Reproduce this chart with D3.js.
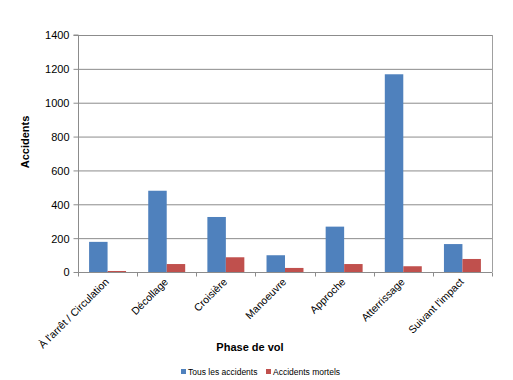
<!DOCTYPE html>
<html><head><meta charset="utf-8">
<script src="https://cdn.jsdelivr.net/npm/d3@7/dist/d3.min.js"></script>
<style>body{margin:0;background:#fff;} text{font-family:"Liberation Sans",Arial,sans-serif;}</style>
</head><body>
<svg id="c" width="513" height="380"></svg>
<script>
const categories = ["À l'arrêt / Circulation","Décollage","Croisière","Manoeuvre","Approche","Atterrissage","Suivant l'impact"];
const seriesNames = ["Tous les accidents","Accidents mortels"];
const totalAccidents = [178, 480, 325, 99, 268, 1168, 165];
const fatalAccidents = [6, 47, 87, 24, 47, 34, 77];
const yTicks = [0,200,400,600,800,1000,1200,1400];
const colors = ["#4F81BD","#C0504D"];

const svg = d3.select("#c");
const L=78, R=492, T=35, B=272;
const x = d3.scaleBand().domain(categories).range([L,R]).paddingInner(0).paddingOuter(0);
const y = d3.scaleLinear().domain([0,1400]).range([B,T]);
const inner = d3.scaleBand().domain(seriesNames).range([0,x.bandwidth()]).paddingInner(0).paddingOuter(0.6);

// gridlines
svg.append("g").selectAll("line").data(yTicks).join("line")
  .attr("x1",L).attr("x2",R).attr("y1",d=>y(d)+0.5).attr("y2",d=>y(d)+0.5)
  .attr("stroke","#8c8c8c").attr("stroke-width",1);
// right border
svg.append("line").attr("x1",R+0.5).attr("x2",R+0.5).attr("y1",T).attr("y2",B).attr("stroke","#a0a0a0");

// bars
const data = categories.map((c,i)=>({c, v:[totalAccidents[i], fatalAccidents[i]]}));
const g = svg.append("g");
data.forEach(d=>{
  seriesNames.forEach((s,j)=>{
    g.append("rect").attr("x",x(d.c)+inner(s)).attr("width",inner.bandwidth())
      .attr("y",y(d.v[j])).attr("height",B-y(d.v[j])+0.5).attr("fill",colors[j]);
  });
});

// y axis
const ya = svg.append("g").attr("transform",`translate(${L+0.5},0)`)
  .call(d3.axisLeft(y).tickValues(yTicks).tickSize(5).tickPadding(4).tickFormat(d3.format("d")));
ya.select(".domain").attr("stroke","#8c8c8c").attr("d",`M-5,${T}H0V${B+0.5}`);
ya.selectAll(".tick line").attr("stroke","#8c8c8c");
ya.selectAll(".tick text").attr("font-size",11).attr("fill","#000").attr("font-family","Liberation Sans, Arial, sans-serif").attr("dy","0.35em");

// x axis
const xa = svg.append("g").attr("transform",`translate(0,${B+0.5})`);
xa.append("line").attr("x1",L).attr("x2",R).attr("stroke","#8c8c8c");
const bounds = categories.map(c=>x(c)).concat([R]);
xa.selectAll("line.t").data(bounds).join("line").attr("class","t")
  .attr("x1",d=>Math.round(d)+0.5).attr("x2",d=>Math.round(d)+0.5).attr("y1",0).attr("y2",4).attr("stroke","#8c8c8c");
xa.selectAll("text").data(categories).join("text")
  .attr("transform",d=>`translate(${x(d)+x.bandwidth()/2+2},${10}) rotate(-45)`)
  .attr("text-anchor","end").attr("font-size",10.5).attr("fill","#000").text(d=>d);

// axis titles
svg.append("text").attr("transform",`translate(29,${142}) rotate(-90)`).attr("text-anchor","middle")
  .attr("font-size",11).attr("font-weight","bold").text("Accidents");
svg.append("text").attr("x",250).attr("y",351).attr("text-anchor","middle")
  .attr("font-size",11).attr("font-weight","bold").text("Phase de vol");

// legend
const leg = svg.append("g");
const legX = [181, 266];
seriesNames.forEach((s,j)=>{
  leg.append("rect").attr("x",legX[j]).attr("y",369).attr("width",5).attr("height",5).attr("fill",colors[j]);
  leg.append("text").attr("x",legX[j]+7).attr("y",374.5).attr("font-size",8.5).text(s);
});
</script>
</body></html>
